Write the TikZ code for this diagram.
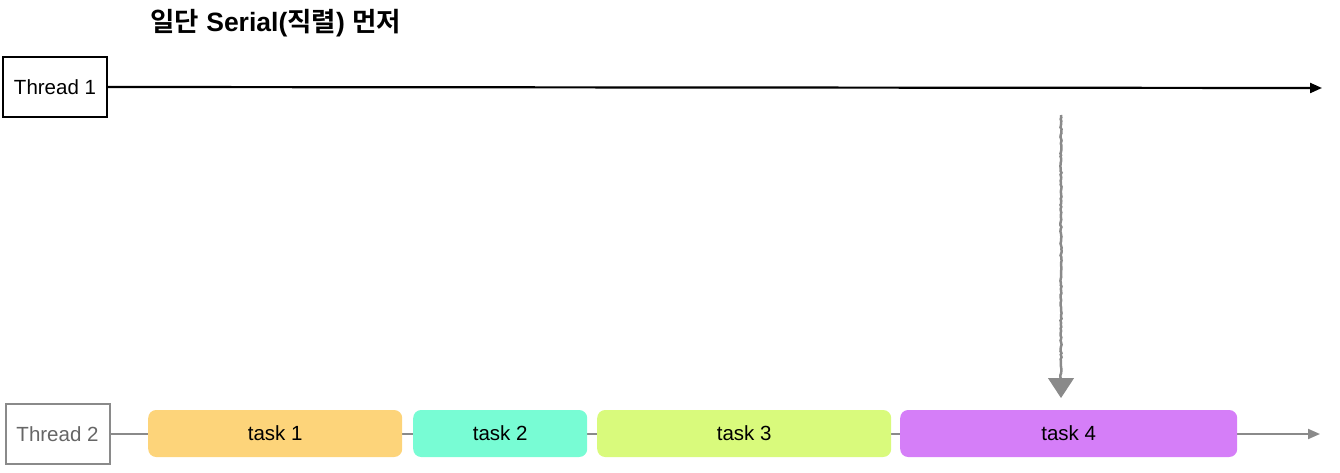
\documentclass[tikz,border=0pt]{standalone}
\usepackage{fontspec}
\setmainfont{Liberation Sans}
\newfontfamily\kr{Noto Sans CJK KR}[BoldFont={Noto Sans CJK KR Bold}]
\usetikzlibrary{arrows.meta,decorations.pathmorphing}
\definecolor{tone}{HTML}{FDD47A}
\definecolor{ttwo}{HTML}{78FCD4}
\definecolor{tthree}{HTML}{D9FA7C}
\definecolor{tfour}{HTML}{D57EF8}
\definecolor{gline}{HTML}{8A8A8A}
\begin{document}
\begin{tikzpicture}[x=1pt,y=-1pt,
  thr/.style={draw,line width=2pt,minimum width=104pt,minimum height=60pt,inner sep=0pt,font=\fontsize{20.5}{22}\selectfont},
  task/.style={rounded corners=8pt,minimum height=47pt,inner sep=0pt,anchor=west,font=\fontsize{20.5}{22}\selectfont}]
\useasboundingbox (0,0) rectangle (1340,473);
\node[font=\bfseries\fontsize{26.5}{29}\selectfont,anchor=west,inner sep=0pt] (title) at (150,23) {{\kr 일단} Serial({\kr 직렬}) {\kr 먼저}};
\node[thr] (t1) at (55,87) {Thread 1};
\coordinate (e1) at (1322,88);
\draw[line width=2.2pt,-{Triangle[length=12pt,width=10pt]}] (t1.east) -- (e1);
\node[thr,draw=gline,text=black!60] (t2) at (57.5,434) {Thread 2};
\coordinate (e2) at (1320,434);
\draw[gline,line width=2pt,-{Triangle[length=12pt,width=10pt]}] (t2.east) -- (e2);
\node[task,fill=tone,minimum width=254pt] (k1) at (148,433.5) {task 1};
\node[task,fill=ttwo,minimum width=174pt] (k2) at (413,433.5) {task 2};
\node[task,fill=tthree,minimum width=294pt] (k3) at (597,433.5) {task 3};
\node[task,fill=tfour,minimum width=337pt] (k4) at (900,433.5) {task 4};
\coordinate (a0) at (1061,115);
\coordinate (a1) at (1061,398);
\draw[gline,line width=2.5pt,decorate,decoration={random steps,segment length=2pt,amplitude=0.6pt}] (a0) -- (1061,380);
\draw[gline,line width=1pt,-{Triangle[length=20pt,width=26pt]}] (1061,378) -- (a1);
\end{tikzpicture}
\end{document}
